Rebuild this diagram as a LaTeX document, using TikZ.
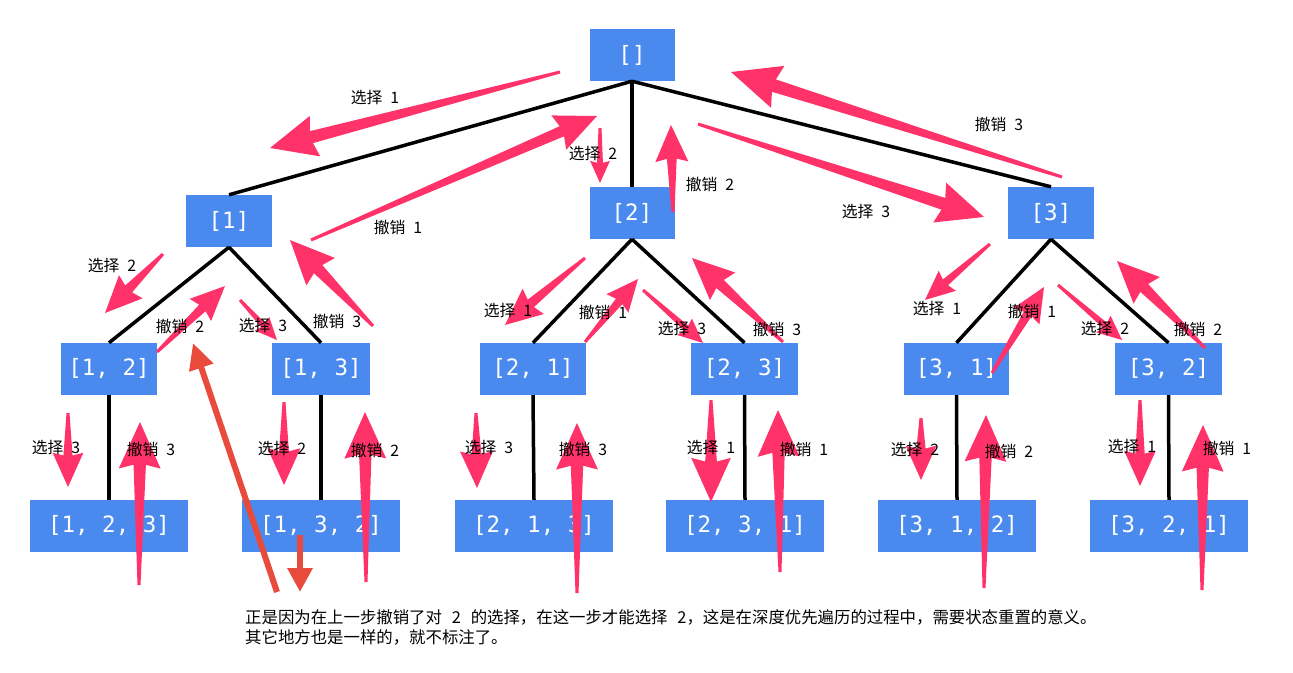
\documentclass[tikz,border=0pt]{standalone}
\usepackage{fontspec}
\newfontfamily\cjk{Noto Sans CJK SC}
\newfontfamily\monof{DejaVu Sans Mono}
\usetikzlibrary{calc,arrows.meta}
\definecolor{boxblue}{HTML}{4A89EE}
\definecolor{pinkarr}{HTML}{FF3369}
\definecolor{annored}{HTML}{E84B3C}
\tikzset{
  box/.style={fill=boxblue, text=white, font=\monof\fontsize{22.5}{22.5}\selectfont, minimum height=52pt, inner sep=0pt},
  edge/.style={line width=3.5pt, black},
  lbl/.style={font=\cjk\fontsize{15.8}{15.8}\selectfont, inner sep=0pt, text=black},
  note/.style={font=\cjk\fontsize{16.4}{16.4}\selectfont, inner sep=0pt, anchor=west},
}
% tapered pink arrow: x1 y1 x2 y2 scale
\newcommand\parr[5]{%
  \pgfmathsetmacro\PAdx{#3-#1}\pgfmathsetmacro\PAdy{#4-#2}%
  \pgfmathsetmacro\PAang{atan2(-\PAdy,\PAdx)}%
  \pgfmathsetmacro\PAlen{veclen(\PAdx,\PAdy)}%
  \pgfmathsetmacro\PAhl{min(45*#5,0.6*\PAlen)}%
  \pgfmathsetmacro\PAhb{\PAlen-\PAhl}%
  \pgfmathsetmacro\PAhw{22*#5}\pgfmathsetmacro\PAsw{6.5*#5}%
  \fill[pinkarr, shift={(#1,#2)}, rotate=\PAang] (0,-1.5) -- (\PAhb,-\PAsw) -- (\PAhb-4*#5,-\PAhw) -- (\PAlen,0) -- (\PAhb-4*#5,\PAhw) -- (\PAhb,\PAsw) -- (0,1.5) -- cycle;%
}
\newcommand\lab[4]{\node[lbl] (#1) at (#2,#3) {#4};}
\begin{document}
\begin{tikzpicture}[x=1pt,y=-1pt]
\useasboundingbox (0,0) rectangle (1293,672);
% nodes
\node[box, minimum width=85pt] (r) at (632,55) {[]};
\node[box, minimum width=86pt] (n1) at (229,221) {[1]};
\node[box, minimum width=85pt] (n2) at (632,213) {[2]};
\node[box, minimum width=86pt] (n3) at (1051,213) {[3]};
\node[box, minimum width=96pt] (n12) at (109,369) {[1, 2]};
\node[box, minimum width=98pt] (n13) at (321,369) {[1, 3]};
\node[box, minimum width=106pt] (n21) at (533,369) {[2, 1]};
\node[box, minimum width=107pt] (n23) at (744.5,369) {[2, 3]};
\node[box, minimum width=105pt] (n31) at (956.5,369) {[3, 1]};
\node[box, minimum width=107pt] (n32) at (1168.5,369) {[3, 2]};
\node[box, minimum width=158pt] (n123) at (109,526) {[1, 2, 3]};
\node[box, minimum width=158pt] (n132) at (321,526) {[1, 3, 2]};
\node[box, minimum width=158pt] (n213) at (534,526) {[2, 1, 3]};
\node[box, minimum width=158pt] (n231) at (745,526) {[2, 3, 1]};
\node[box, minimum width=158pt] (n312) at (957,526) {[3, 1, 2]};
\node[box, minimum width=158pt] (n321) at (1169,526) {[3, 2, 1]};
% edges
\draw[edge] (r.south) -- (n1.north);
\draw[edge] (r.south) -- (n2.north);
\draw[edge] (r.south) -- (n3.north);
\draw[edge] (n1.south) -- (n12.north);
\draw[edge] (n1.south) -- (n13.north);
\draw[edge] (n2.south) -- (n21.north);
\draw[edge] (n2.south) -- (n23.north);
\draw[edge] (n3.south) -- (n31.north);
\draw[edge] (n3.south) -- (n32.north);
\draw[edge] (n12.south) -- (n123.north);
\draw[edge] (n13.south) -- (n132.north);
\draw[edge] (n21.south) -- (n213.north);
\draw[edge] (n23.south) -- (n231.north);
\draw[edge] (n31.south) -- (n312.north);
\draw[edge] (n32.south) -- (n321.north);
% pink arrows, top level
\parr{560}{72}{270}{148}{0.95}
\parr{311}{240}{597}{116}{0.85}
\parr{600}{128}{600}{183}{0.45}
\parr{673}{212}{671}{125}{0.75}
\parr{698}{124}{984}{217}{0.95}
\parr{1062}{177}{731}{72}{1.0}
% [1] subtree
\parr{163}{254}{105}{313}{0.75}
\parr{157}{352}{225}{286}{0.7}
\parr{240}{300}{277}{340}{0.45}
\parr{373}{326}{290}{240}{0.9}
% [2] subtree
\parr{585}{258}{505}{325}{0.75}
\parr{585}{342}{638}{279}{0.65}
\parr{643}{290}{703}{343}{0.5}
\parr{783}{342}{692}{258}{0.85}
% [3] subtree
\parr{990}{244}{925}{300}{0.6}
\parr{992}{373}{1044}{287}{0.7}
\parr{1058}{285}{1122}{340}{0.5}
\parr{1205}{348}{1117}{261}{0.85}
% bottom level
\parr{68}{413}{68}{487}{0.7}
\parr{139}{585}{140}{422}{0.95}
\parr{284}{402}{284}{485}{0.75}
\parr{366}{582}{365}{412}{0.95}
\parr{476}{413}{477}{488}{0.75}
\parr{577}{593}{577}{423}{0.95}
\parr{711}{400}{711}{502}{0.9}
\parr{780}{572}{778}{410}{0.95}
\parr{921}{418}{921}{480}{0.7}
\parr{984}{588}{986}{415}{0.95}
\parr{1140}{400}{1140}{486}{0.72}
\parr{1202}{590}{1203}{425}{0.95}
% red annotation arrows
\coordinate (ra1) at (277,592);
\coordinate (ra2) at (193,343);
\coordinate (rb1) at (300,535);
\coordinate (rb2) at (300,592);
\draw[annored, line width=6pt, -{Triangle[width=24pt,length=26pt]}] (ra1) -- (ra2);
\draw[annored, line width=6pt, -{Triangle[width=24pt,length=24pt]}] (rb1) -- (rb2);
% labels
\lab{t1}{375}{98}{选择\hspace{0.5em}1}
\lab{t2}{398}{227}{撤销\hspace{0.5em}1}
\lab{t3}{593}{154}{选择\hspace{0.5em}2}
\lab{t4}{710}{184}{撤销\hspace{0.5em}2}
\lab{t5}{866}{212}{选择\hspace{0.5em}3}
\lab{t6}{999}{124}{撤销\hspace{0.5em}3}
\lab{a1}{112}{266}{选择\hspace{0.5em}2}
\lab{a2}{180}{326}{撤销\hspace{0.5em}2}
\lab{a3}{263}{326}{选择\hspace{0.5em}3}
\lab{a4}{337}{321}{撤销\hspace{0.5em}3}
\lab{b1}{508}{311}{选择\hspace{0.5em}1}
\lab{b2}{603}{312}{撤销\hspace{0.5em}1}
\lab{b3}{682}{329}{选择\hspace{0.5em}3}
\lab{b4}{777}{329}{撤销\hspace{0.5em}3}
\lab{c1}{937}{309}{选择\hspace{0.5em}1}
\lab{c2}{1032}{311}{撤销\hspace{0.5em}1}
\lab{c3}{1105}{329}{选择\hspace{0.5em}2}
\lab{c4}{1198}{329}{撤销\hspace{0.5em}2}
\lab{d1}{56}{448}{选择\hspace{0.5em}3}
\lab{d2}{151}{449}{撤销\hspace{0.5em}3}
\lab{d3}{282}{449}{选择\hspace{0.5em}2}
\lab{d4}{375}{450}{撤销\hspace{0.5em}2}
\lab{d5}{489}{448}{选择\hspace{0.5em}3}
\lab{d6}{583}{449}{撤销\hspace{0.5em}3}
\lab{d7}{711}{448}{选择\hspace{0.5em}1}
\lab{d8}{804}{449}{撤销\hspace{0.5em}1}
\lab{d9}{915}{450}{选择\hspace{0.5em}2}
\lab{d10}{1009}{451}{撤销\hspace{0.5em}2}
\lab{d11}{1132}{447}{选择\hspace{0.5em}1}
\lab{d12}{1227}{448}{撤销\hspace{0.5em}1}
% note
\node[note] (m1) at (245,617) {正是因为在上一步撤销了对\hspace{0.6em}2\hspace{0.6em}的选择，在这一步才能选择\hspace{0.6em}2，这是在深度优先遍历的过程中，需要状态重置的意义。};
\node[note] (m2) at (245,637) {其它地方也是一样的，就不标注了。};
\end{tikzpicture}
\end{document}
